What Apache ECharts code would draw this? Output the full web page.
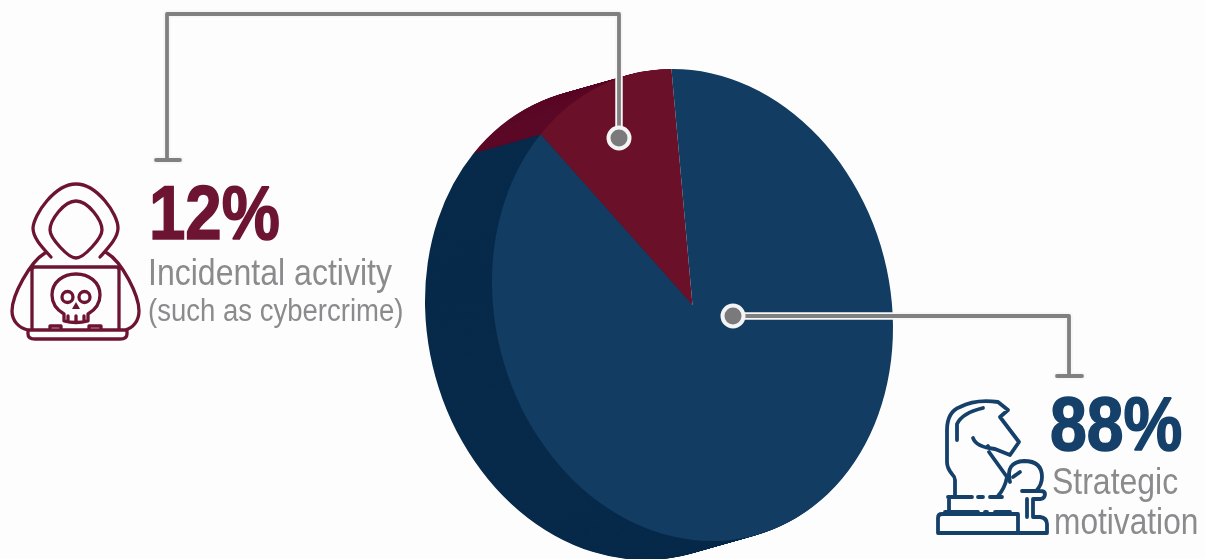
<!DOCTYPE html>
<html><head><meta charset="utf-8">
<style>html,body{margin:0;padding:0;background:#fdfdfd}#c{width:1205px;height:559px}</style>
<script src="https://cdn.jsdelivr.net/npm/echarts@6/dist/echarts.min.js"></script>
</head><body><div id="c"></div>
<script>
const categories = ['Incidental activity (such as cybercrime)', 'Strategic motivation'];
const shares = [12, 88];
const percentLabels = ['12%', '88%'];
const captionA = ['Incidental activity', '(such as cybercrime)'];
const captionB = ['Strategic', 'motivation'];
const topColors = ['#6a1029', '#123c62'];
const sideColors = ['#5a0826', '#072a4a'];

const GRAY = '#808080', MAROON = '#6d1432', NAVY = '#15406a', TXT = '#8b8b8d';
const SANS = '"Liberation Sans",Arial,sans-serif';
const cx = 692.5, cy = 305, rx = 197.3, ry = 238.7, tilt = 15.4 * Math.PI / 180;
const depthX = -67, depthY = 19, STEPS = 68;
const rot0 = 12.4;           // degrees from 12 o'clock (on the untilted disc) at which the first slice ends

function sliceAngles(i, share) {
  const total = shares.reduce((a, b) => a + b, 0);
  const sweep = share / total * 2 * Math.PI;
  const r0 = -Math.PI / 2 + rot0 * Math.PI / 180;
  return i === 0 ? [r0 - sweep, r0] : [r0, r0 + sweep];
}
function sec(s, e, x, y, fill) {
  return {
    type: 'sector', x, y, scaleX: rx, scaleY: ry, rotation: tilt, silent: true,
    shape: { cx: 0, cy: 0, r0: 0, r: 1, startAngle: s, endAngle: e, clockwise: true },
    style: { fill }
  };
}
function renderWall(params, api) {
  const i = api.value(0);
  const [start, end] = sliceAngles(i, api.value(1));
  // side wall: swept copies. Navy wall only needs the part that shows on the left and bottom.
  const wallS = i === 0 ? start : end - 200 * Math.PI / 180;
  const children = [];
  for (let k = STEPS; k >= 1; k--) {
    const t = k / STEPS;
    children.push(sec(wallS, end, cx + depthX * t, cy + depthY * t, sideColors[i]));
  }
  return { type: 'group', children };
}
function renderTop(params, api) {
  const i = api.value(0);
  const [start, end] = sliceAngles(i, api.value(1));
  return sec(start, end, cx, cy, topColors[i]);
}
const rows = shares.map((v, i) => [i, v]);

function line(d, color, w) {
  return { type: 'path', silent: true, shape: { pathData: d }, style: { fill: 'none', stroke: color, lineWidth: w, lineCap: 'round', lineJoin: 'round' } };
}
function text(t, x, y, font, fill, sx, heavy) {
  const style = { text: t, font, fill, textAlign: 'left', textVerticalAlign: 'middle' };
  if (heavy) { style.stroke = fill; style.lineWidth = heavy; }
  return { type: 'text', silent: true, x, y, scaleX: sx, style };
}
function dot(x, y) {
  return { type: 'circle', silent: true, shape: { cx: x, cy: y, r: 10.5 }, style: { fill: '#7a7a7c', stroke: '#f4f4f4', lineWidth: 4 } };
}
const leader1 = 'M619 138V14H167V160M156 160H180';
const leader2 = 'M733 316H1069V376M1057 376H1082';

const hacker = [
  'M51 257C42 247 33 238 33 228C34 214 55 184 76 184C97 184 118 214 118 228C118 238 108 248 100 257',
  'M76 201C88 201 102 220 102 230C102 238 84 258 76 258C68 258 50 238 50 230C50 220 64 201 76 201Z',
  'M45 253C30 262 12 295 12 311C12 321 19 328 28 330',
  'M107 253C122 262 139 295 139 311C139 321 133 328 125 330',
  'M32 330V270Q32 267 35 267H116Q119 267 119 270V330',
  'M28 330H127V334Q127 339 120 339H35Q28 339 28 334Z',
  'M50 329V326H61V329M89 329V326H101V329',
  'M64 321V314Q52 307 52 295C52 282 63 274 76 274C89 274 100 282 100 295Q100 307 88 314V321Q76 324 64 321Z',
  'M68 321V316M76 322V316M84 321V316',
  'M73 297A5.5 5.5 0 1 1 62 297A5.5 5.5 0 1 1 73 297ZM90 297A5.5 5.5 0 1 1 79 297A5.5 5.5 0 1 1 90 297Z'
].join('');
const knight = [
  'M955 497V480Q955 477 952 474Q947 468 947 462V430Q947 412 960 407Q975 399 998 402L1008 410L1000 417L1019 442L1010 455L995 449Q986 448 988 446',
  'M957 440V424Q962 413 983 408',
  'M973 438Q976 447 995 449',
  'M989 452L1007 477Q1005 488 998 496',
  'M948 497H972M978 497H983M990 497H1002',
  'M949 497V510M945 512H978M985 512H987M995 512H1010',
  'M938 533V518Q938 514 942 514H1018V533',
  'M938 533H1047V524Q1047 518 1040 517H1033V499H1041Q1045 498 1045 494Q1045 491 1040 491H1022',
  'M1010 482Q1005 462 1024 461Q1042 461 1042 477Q1042 485 1036 491',
  'M1013 477L1020 472',
  'M1027 499V517'
].join('');

function renderAnnotations() {
  return { type: 'group', children: [
    line(leader1, '#f6f6f6', 7.5), line(leader2, '#f6f6f6', 7.5),
    line(leader1, GRAY, 3.8), line(leader2, GRAY, 3.8),
    dot(619, 138), dot(733, 316),
    line(hacker, MAROON, 3.3),
    { type: 'path', silent: true, shape: { pathData: 'M76 302L80 309H72Z' }, style: { fill: MAROON } },
    line(knight, NAVY, 3.8),
    text(percentLabels[0], 149, 218.5, 'bold 76px ' + SANS, MAROON, 0.86, 1.6),
    text(captionA[0], 148, 275, '36px ' + SANS, TXT, 0.89),
    text(captionA[1], 148, 312, '31px ' + SANS, TXT, 0.888),
    text(percentLabels[1], 1050, 429, 'bold 76px ' + SANS, NAVY, 0.87, 1.6),
    text(captionB[0], 1052, 484, '36px ' + SANS, TXT, 0.888),
    text(captionB[1], 1054, 524, '36px ' + SANS, TXT, 0.88)
  ] };
}

const chart = echarts.init(document.getElementById('c'), null, { renderer: 'canvas' });
chart.setOption({
  animation: false,
  backgroundColor: '#fdfdfd',
  series: [
    { type: 'custom', coordinateSystem: 'none', z: 1, renderItem: renderWall, data: [rows[0]] },
    { type: 'custom', coordinateSystem: 'none', z: 2, renderItem: renderWall, data: [rows[1]] },
    { type: 'custom', coordinateSystem: 'none', z: 3, renderItem: renderTop, data: rows },
    { type: 'custom', coordinateSystem: 'none', z: 4, renderItem: renderAnnotations, data: [[0]] }
  ]
});
</script></body></html>
